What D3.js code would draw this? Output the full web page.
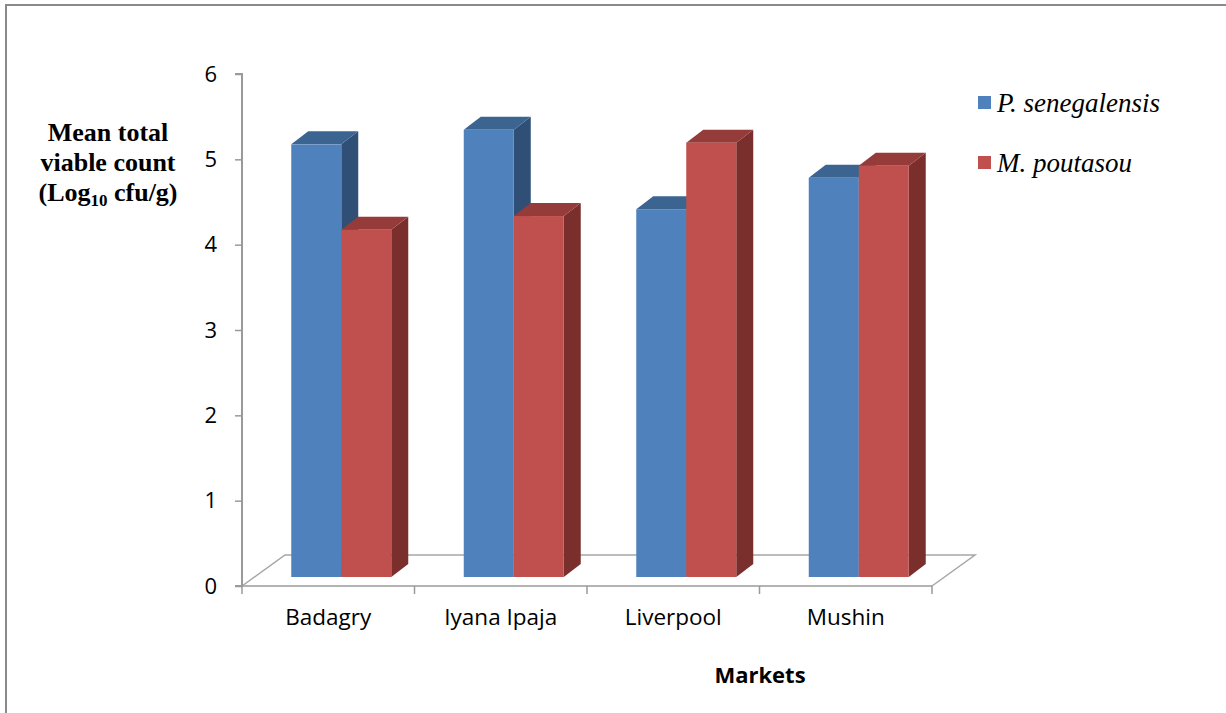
<!DOCTYPE html>
<html><head><meta charset="utf-8">
<script src="https://cdn.jsdelivr.net/npm/d3@7"></script>
<style>body{margin:0;background:#fff}svg{display:block}</style>
</head><body>
<script>
const categories = ["Badagry", "Iyana Ipaja", "Liverpool", "Mushin"];
const seriesNames = ["P. senegalensis", "M. poutasou"];
const pSenegalensis = [5.07, 5.24, 4.31, 4.68];
const mPoutasou = [4.07, 4.23, 5.09, 4.82];
const yTicks = [0, 1, 2, 3, 4, 5, 6];

const W = 1226, H = 713;
const svg = d3.select("body").append("svg").attr("width", W).attr("height", H);

// outer frame
svg.append("rect").attr("x", 6).attr("y", 5).attr("width", W + 20).attr("height", H + 20)
  .attr("fill", "none").attr("stroke", "#8a8a8a").attr("stroke-width", 2);

const x = d3.scaleBand().domain(categories).range([242, 932]).paddingInner(0).paddingOuter(0);
const y = d3.scaleLinear().domain([0, 6]).range([586, 74]);
const floorDx = 43, floorDy = -31;
const frontDx = 13, frontDy = -9;
const depthDx = 17, depthDy = -13;
const sub = d3.scaleBand().domain(seriesNames).range([0, x.bandwidth()]).paddingInner(0).paddingOuter(0.725);

const colors = {
  "P. senegalensis": {front: "#4F81BD", top: "#3C6491", side: "#2F4F77"},
  "M. poutasou": {front: "#C0504D", top: "#953C3A", side: "#7B2F2D"}
};

// floor
const x0 = x.range()[0], x1 = x.range()[1], yb = y(0);
svg.append("path")
  .attr("d", `M${x0},${yb}L${x0 + floorDx},${yb + floorDy}L${x1 + floorDx},${yb + floorDy}L${x1},${yb}`)
  .attr("fill", "none").attr("stroke", "#a6a6a6").attr("stroke-width", 1.5);

// y axis
const yAxis = d3.axisLeft(y).tickValues(yTicks).tickSize(7).tickPadding(18).tickFormat(d3.format("d"));
const gy = svg.append("g").attr("transform", `translate(${x0},0)`).call(yAxis);
gy.select(".domain").attr("stroke", "#9a9a9a").attr("stroke-width", 2).attr("d", `M-7,${y(6)}H0V${y(0)}H-7`);
gy.selectAll(".tick line").attr("stroke", "#9a9a9a").attr("stroke-width", 1.5);
gy.selectAll(".tick text").attr("font-family", "'Open Sans', sans-serif").attr("font-size", 22).attr("fill", "#000");

// x axis
const xAxis = d3.axisBottom(x).tickSize(0).tickPadding(23);
const gx = svg.append("g").attr("transform", `translate(0,${yb})`).call(xAxis);
gx.select(".domain").attr("stroke", "#9a9a9a").attr("stroke-width", 1.5).attr("d", `M${x0},0H${x1}`);
gx.selectAll(".tick text").attr("font-family", "'Open Sans', sans-serif").attr("font-size", 22.5).attr("fill", "#000");
const bounds = categories.map(c => x(c)).concat([x1]);
svg.append("g").selectAll("line").data(bounds).join("line")
  .attr("x1", d => d).attr("x2", d => d).attr("y1", yb).attr("y2", yb + 8)
  .attr("stroke", "#9a9a9a").attr("stroke-width", 1.5);

// bars
const yBar = v => y(v) + frontDy;
const data = [];
categories.forEach((c, i) => {
  data.push({c, s: seriesNames[0], v: pSenegalensis[i]});
  data.push({c, s: seriesNames[1], v: mPoutasou[i]});
});
const bars = svg.append("g").selectAll("g").data(data).join("g");
bars.each(function(d) {
  const g = d3.select(this);
  const bx = x(d.c) + frontDx + sub(d.s), bw = sub.bandwidth();
  const top = yBar(d.v), base = yBar(0);
  const col = colors[d.s];
  g.append("path").attr("d",
    `M${bx + bw},${top}L${bx + bw + depthDx},${top + depthDy}L${bx + bw + depthDx},${base + depthDy}L${bx + bw},${base}Z`)
    .attr("fill", col.side);
  g.append("path").attr("d",
    `M${bx},${top}L${bx + depthDx},${top + depthDy}L${bx + bw + depthDx},${top + depthDy}L${bx + bw},${top}Z`)
    .attr("fill", col.top);
  g.append("rect").attr("x", bx).attr("y", top).attr("width", bw).attr("height", base - top).attr("fill", col.front);
});

// y title
const yt = svg.append("text").attr("font-family", "'Liberation Serif', 'Times New Roman', serif")
  .attr("font-weight", "bold").attr("font-size", 26).attr("text-anchor", "middle").attr("fill", "#000");
yt.append("tspan").attr("x", 108).attr("y", 141).text("Mean total");
yt.append("tspan").attr("x", 108).attr("y", 171).text("viable count");
const l3 = yt.append("tspan").attr("x", 108).attr("y", 201);
l3.text("(Log");
yt.append("tspan").attr("font-size", 17).attr("dy", 5).text("10");
yt.append("tspan").attr("dy", -5).text(" cfu/g)");

// x title
svg.append("text").attr("x", 760).attr("y", 683).attr("text-anchor", "middle")
  .attr("font-family", "'Open Sans', sans-serif").attr("font-weight", "bold").attr("font-size", 22)
  .attr("fill", "#000").text("Markets");

// legend
const leg = svg.append("g").selectAll("g").data(seriesNames).join("g")
  .attr("transform", (d, i) => `translate(978,${96 + i * 60})`);
leg.append("rect").attr("width", 13).attr("height", 13).attr("fill", d => colors[d].front);
leg.append("text").attr("x", 19).attr("y", 16)
  .attr("font-family", "'Liberation Serif', 'Times New Roman', serif").attr("font-style", "italic")
  .attr("font-size", 27).attr("fill", "#000").text(d => d);
</script>
</body></html>
